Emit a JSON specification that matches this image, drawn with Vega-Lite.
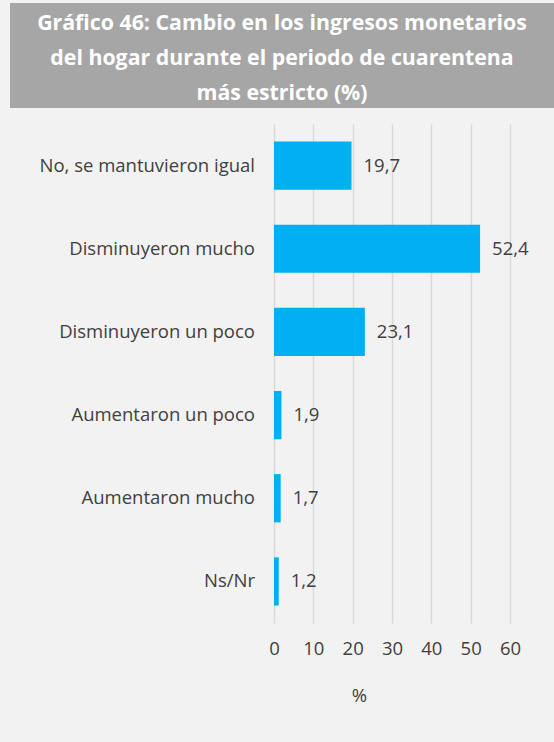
{
  "$schema": "https://vega.github.io/schema/vega-lite/v6.json",
  "background": "#f2f2f2",
  "padding": {"left": 10, "top": 3, "right": 0, "bottom": 39},
  "spacing": 16,
  "config": {
    "view": {"stroke": null},
    "locale": {"number": {"decimal": ",", "thousands": ".", "grouping": [3], "currency": ["", " €"]}},
    "font": "Open Sans"
  },
  "vconcat": [
    {
      "width": 544,
      "height": 105,
      "view": {"fill": "#a6a6a6", "stroke": null},
      "data": {"values": [
        {"line": 1, "text": "Gráfico 46: Cambio en los ingresos monetarios"},
        {"line": 2, "text": "del hogar durante el periodo de cuarentena"},
        {"line": 3, "text": "más estricto (%)"}
      ]},
      "mark": {"type": "text", "font": "Open Sans", "fontWeight": "bold", "fontSize": 21.3, "color": "#ffffff", "align": "center", "baseline": "middle", "dy": 3},
      "encoding": {
        "y": {"field": "line", "type": "ordinal", "axis": null, "scale": {"paddingInner": 0, "paddingOuter": 0}},
        "text": {"field": "text"}
      }
    },
    {
      "width": 544,
      "height": 499,
      "data": {"values": [
        {"cat": "No, se mantuvieron igual", "value": 19.7},
        {"cat": "Disminuyeron mucho", "value": 52.4},
        {"cat": "Disminuyeron un poco", "value": 23.1},
        {"cat": "Aumentaron un poco", "value": 1.9},
        {"cat": "Aumentaron mucho", "value": 1.7},
        {"cat": "Ns/Nr", "value": 1.2}
      ]},
      "encoding": {
        "y": {
          "field": "cat", "type": "nominal", "sort": null,
          "scale": {"paddingInner": 0.42, "paddingOuter": 0.21},
          "axis": null
        }
      },
      "layer": [
        {
          "mark": {"type": "bar", "color": "#00b0f0"},
          "encoding": {
            "x": {
              "field": "value", "type": "quantitative",
              "scale": {"domain": [-67.12, 71.19], "nice": false, "zero": false},
              "axis": {
                "title": "%", "titleFont": "Open Sans", "titleFontWeight": "normal", "titleFontSize": 18.5, "titleColor": "#404040", "titlePadding": 29, "titleX": 349,
                "values": [0, 10, 20, 30, 40, 50, 60],
                "grid": true, "gridColor": "#d9d9d9", "gridWidth": 1.5,
                "domain": false, "ticks": false, "labelPadding": 16,
                "labelFont": "Open Sans", "labelFontSize": 18.5, "labelColor": "#404040", "labelOverlap": false
              }
            }
          }
        },
        {
          "mark": {"type": "text", "align": "left", "baseline": "middle", "dx": 12, "font": "Open Sans", "fontSize": 18.5, "color": "#404040"},
          "encoding": {
            "x": {"field": "value", "type": "quantitative"},
            "text": {"field": "value", "type": "quantitative", "format": ".1f"}
          }
        },
        {
          "mark": {"type": "text", "align": "right", "baseline": "middle", "dx": -19, "font": "Open Sans", "fontSize": 18.5, "color": "#404040"},
          "encoding": {
            "x": {"datum": 0},
            "text": {"field": "cat", "type": "nominal"}
          }
        }
      ]
    }
  ]
}
